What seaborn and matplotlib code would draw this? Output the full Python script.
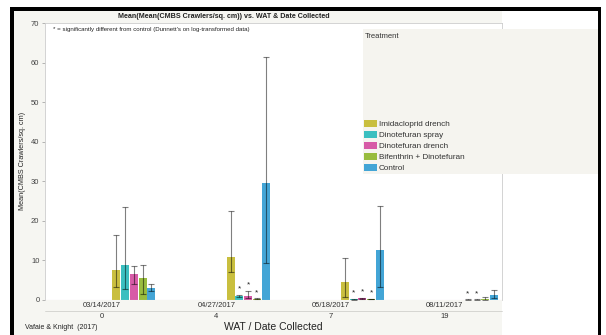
import pandas as pd
import matplotlib
matplotlib.use('Agg')
import matplotlib.pyplot as plt
import matplotlib.transforms as mtrans
import seaborn as sns
from matplotlib.patches import Rectangle, Patch
from matplotlib.lines import Line2D

# data (JMP graph builder export)
dates = ['03/14/2017', '04/27/2017', '05/18/2017', '08/11/2017']
wat = ['0', '4', '7', '19']
treatments = ['Imidacloprid drench', 'Dinotefuran spray', 'Dinotefuran drench',
              'Bifenthrin + Dinotefuran', 'Control']
colors = ['#c9bf3f', '#3bbfc0', '#d75ba7', '#98bc3e', '#43a5d6']

# rows = dates, columns = treatments
means = [[7.7, 8.9, 6.5, 5.5, 3.0],
         [10.9, 1.0, 1.1, 0.3, 29.5],
         [4.5, 0.2, 0.4, 0.25, 12.6],
         [0.0, 0.1, 0.1, 0.3, 1.35]]
upper = [[16.3, 23.6, 8.6, 8.8, 4.0],
         [22.5, 1.3, 2.3, 0.4, 61.4],
         [10.6, 0.3, 0.5, 0.35, 23.7],
         [0.0, 0.15, 0.15, 0.85, 2.6]]
lower = [[3.2, 2.8, 4.0, 1.4, 2.3],
         [7.0, 0.7, 0.4, 0.2, 9.4],
         [0.7, 0.1, 0.3, 0.15, 3.2],
         [0.0, 0.05, 0.05, 0.1, 0.6]]
signif = [[0, 0, 0, 0, 0],
          [0, 1, 1, 1, 0],
          [0, 1, 1, 1, 0],
          [0, 1, 1, 0, 0]]

# bars sit in the right part of each date slot, like the JMP layout
first_offset = 0.124
step = 0.0766

rows = []
for i, d in enumerate(dates):
    for j, t in enumerate(treatments):
        rows.append({'Date': d, 'Treatment': t, 'pos': i + first_offset + j * step,
                     'mean': means[i][j], 'upper': upper[i][j], 'lower': lower[i][j],
                     'sig': signif[i][j]})
df = pd.DataFrame(rows)

sns.set_theme(style='white')
plt.rcParams['font.family'] = ['Liberation Sans', 'DejaVu Sans']

W, H = 606, 335
fx = lambda px: px / W
fy = lambda py: 1 - py / H

fig = plt.figure(figsize=(6.06, 3.35), dpi=100, facecolor='white')

# screenshot frame and panel backgrounds
panel = '#f6f6f2'
fig.patches.append(Rectangle((fx(14), 0), fx(502) - fx(14), fy(11), transform=fig.transFigure,
                             facecolor=panel, edgecolor='none', zorder=-2))
fig.patches.append(Rectangle((fx(10), fy(11)), fx(601) - fx(10), fy(7) - fy(11), transform=fig.transFigure,
                             facecolor='black', edgecolor='none', zorder=5))
fig.patches.append(Rectangle((fx(10), 0), fx(14) - fx(10), fy(7), transform=fig.transFigure,
                             facecolor='black', edgecolor='none', zorder=5))
fig.patches.append(Rectangle((fx(598), 0), fx(601) - fx(598), fy(7), transform=fig.transFigure,
                             facecolor='black', edgecolor='none', zorder=5))

ax = fig.add_axes([fx(45), fy(300), fx(502) - fx(45), fy(23) - fy(300)])
ax.set_facecolor('white')

sns.barplot(data=df, x='pos', y='mean', hue='Treatment', hue_order=treatments,
            palette=colors, native_scale=True, dodge=False, width=0.92,
            errorbar=None, legend=False, saturation=1, linewidth=0, ax=ax)

eb = df[df['upper'] > df['mean']]
ax.errorbar(eb['pos'], eb['mean'], yerr=[eb['mean'] - eb['lower'], eb['upper'] - eb['mean']],
            fmt='none', ecolor=(0, 0, 0, 0.5), elinewidth=0.8, capsize=2.4, capthick=0.8, zorder=4)

for _, r in df[df['sig'] == 1].iterrows():
    ax.text(r['pos'], r['upper'] + 1.5, '*', ha='center', va='center', fontsize=6,
            color='#222222', zorder=5)

ax.axhline(0, color='#ddd6e6', lw=0.8, zorder=1)

ax.set_xlim(-0.5, len(dates) - 0.5)
ax.set_ylim(0, 70)
ax.set_yticks(range(0, 71, 10))
ax.set_xticks(range(len(dates)))
ax.set_xticklabels(dates)
ax.tick_params(axis='y', labelsize=5.5, labelcolor='#444444', length=2.5, width=0.5,
               color='#999999', pad=1.5, left=True)
ax.tick_params(axis='x', labelsize=5.5, labelcolor='#333333', length=0, pad=1.5)
ax.set_xlabel('')
ax.set_ylabel('')
for s in ax.spines.values():
    s.set_color('#cccccc')
    s.set_linewidth(0.6)
ax.spines['bottom'].set_visible(False)

# second row of the nested x axis
row2 = mtrans.blended_transform_factory(ax.transData, fig.transFigure)
for i, w in enumerate(wat):
    ax.text(i, fy(316), w, transform=row2, ha='center', va='center', fontsize=5.5,
            color='#333333', clip_on=False)
fig.lines.append(Line2D([fx(45), fx(502)], [fy(310.5), fy(310.5)], transform=fig.transFigure,
                        color='#d0d0cc', lw=0.6))

fig.text(fx(224), fy(17), 'Mean(Mean(CMBS Crawlers/sq. cm)) vs. WAT & Date Collected',
         ha='center', va='center', fontsize=5.1, fontweight='bold', color='#222222')
fig.text(fx(53), fy(30), "* = significantly different from control (Dunnett's on log-transformed data)",
         ha='left', va='center', fontsize=4.4, color='#222222')
fig.text(fx(273), fy(326.5), 'WAT / Date Collected', ha='center', va='center',
         fontsize=7.5, color='#222222')
fig.text(fx(25), fy(327.5), 'Vafaie & Knight  (2017)', ha='left', va='center',
         fontsize=5, color='#222222')
fig.text(fx(23), fy(161), 'Mean(CMBS Crawlers/sq. cm)', ha='center', va='center',
         rotation=90, fontsize=5.2, color='#222222')

# legend panel
fig.patches.append(Rectangle((fx(363), fy(174)), fx(598) - fx(363), fy(29) - fy(174),
                             transform=fig.transFigure, facecolor='#f5f4ef', edgecolor='none', zorder=2))
fig.text(fx(365), fy(36), 'Treatment', ha='left', va='center', fontsize=5.5, color='#333333')
handles = [Patch(facecolor=c, edgecolor='none', label=t) for t, c in zip(treatments, colors)]
leg = fig.legend(handles=handles, loc='upper left', bbox_to_anchor=(fx(364), fy(120)),
                 frameon=False, fontsize=5.9, handlelength=1.6, handleheight=1.0,
                 handletextpad=0.2, labelspacing=0.3, borderpad=0, borderaxespad=0)
for txt in leg.get_texts():
    txt.set_color('#333333')

fig.savefig('out.png', dpi=100, facecolor='white')
